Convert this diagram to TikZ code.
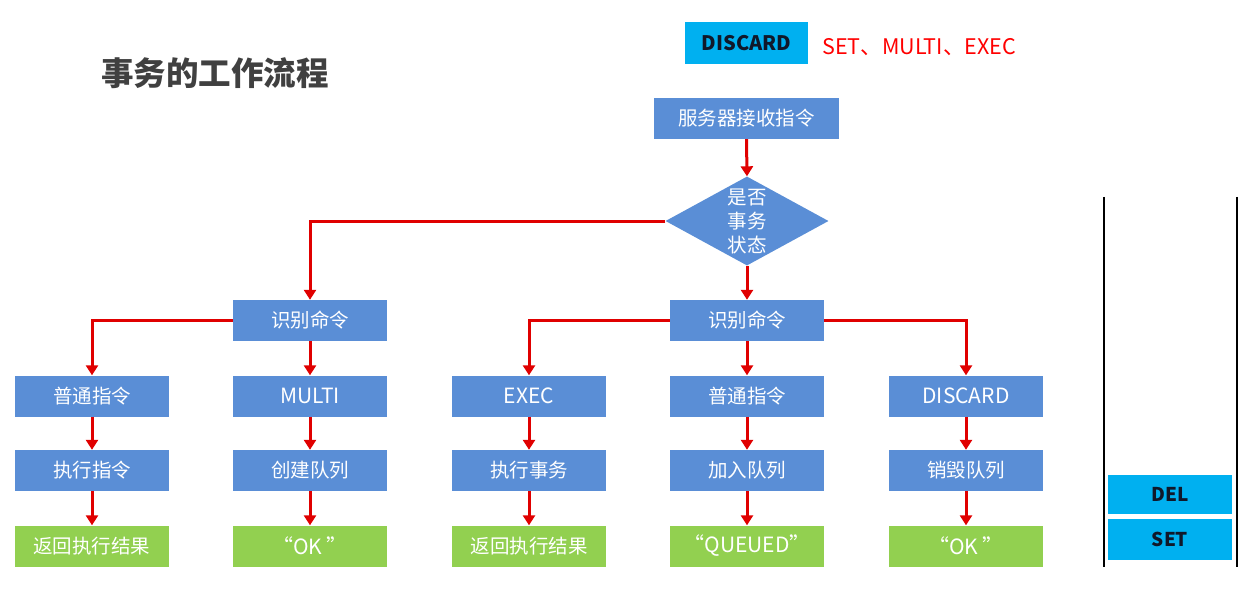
\documentclass[tikz,border=0pt]{standalone}
\usepackage{fontspec}
\setmainfont{Noto Sans CJK SC}
\usetikzlibrary{arrows.meta,shapes.geometric}
\definecolor{boxblue}{HTML}{5A8ED6}
\definecolor{boxgreen}{HTML}{92D050}
\definecolor{cyanbox}{HTML}{00B0F0}
\definecolor{arrowred}{HTML}{E00000}
\definecolor{titlegray}{HTML}{404040}
\definecolor{darktext}{HTML}{10182A}
\tikzset{
  flowbox/.style={rectangle,fill=boxblue,draw=none,inner sep=0pt,minimum width=154pt,minimum height=41pt,text=white,font=\fontsize{19.5}{23}\selectfont},
  resultbox/.style={flowbox,fill=boxgreen},
  cyanlabel/.style={rectangle,fill=cyanbox,draw=none,inner sep=0pt,text=darktext,font=\bfseries\fontsize{19}{22}\selectfont},
  arr/.style={draw=arrowred,line width=3pt,-{Triangle[length=10pt,width=12pt]}},
  stackline/.style={draw=black,line width=2.8pt}
}
\begin{document}
\begin{tikzpicture}[x=1pt,y=-1pt]
\useasboundingbox[fill=white] (0,0) rectangle (1259,591);
% title
\node[text=titlegray,font=\bfseries\fontsize{32.5}{36}\selectfont,anchor=west,inner sep=0pt] (title) at (101,73) {事务的工作流程};
% top legend
\node[cyanlabel,minimum width=123pt,minimum height=42pt,font=\bfseries\fontsize{20}{22}\selectfont] (topdiscard) at (746.5,43) {DISCARD};
\node[text=red,font=\fontsize{21.5}{24}\selectfont,anchor=west,inner sep=0pt] (redtext) at (822,47) {SET、MULTI、EXEC};
% main flow
\node[flowbox,minimum width=185pt] (srv) at (746.5,118.5) {服务器接收指令};
\node[diamond,fill=boxblue,draw=none,inner sep=0pt,minimum width=163pt,minimum height=89pt,aspect=1.83] (dia) at (747,221) {};
\node[text=white,align=center,font=\fontsize{19.5}{24}\selectfont,inner sep=0pt] (diatext) at (747,221) {是否\\事务\\状态};
\node[flowbox] (lid) at (310,320.5) {识别命令};
\node[flowbox] (rid) at (747,320.5) {识别命令};
% row 2
\node[flowbox] (c1) at (92,396) {普通指令};
\node[flowbox,font=\fontsize{21}{23}\selectfont] (c2) at (310,396) {MULTI};
\node[flowbox,font=\fontsize{21}{23}\selectfont] (c3) at (529,396) {EXEC};
\node[flowbox] (c4) at (747,396) {普通指令};
\node[flowbox,font=\fontsize{21}{23}\selectfont] (c5) at (966,396) {DISCARD};
% row 3
\node[flowbox] (d1) at (92,470.5) {执行指令};
\node[flowbox] (d2) at (310,470.5) {创建队列};
\node[flowbox] (d3) at (529,470.5) {执行事务};
\node[flowbox] (d4) at (747,470.5) {加入队列};
\node[flowbox] (d5) at (966,470.5) {销毁队列};
% row 4
\node[resultbox] (e1) at (92,546) {返回执行结果};
\node[resultbox,font=\fontsize{21}{23}\selectfont] (e2) at (310,546) {“OK ”};
\node[resultbox] (e3) at (529,546) {返回执行结果};
\node[resultbox,font=\fontsize{21}{23}\selectfont] (e4) at (747,546) {“QUEUED”};
\node[resultbox,font=\fontsize{21}{23}\selectfont] (e5) at (966,546) {“OK ”};
% connectors
\draw[arr] (srv.south) -- (dia.north);
\draw[arr] (dia.west) -| (lid.north);
\draw[arr] (dia.south) -- (rid.north);
\draw[arr] (lid.west) -| (c1.north);
\draw[arr] (lid.south) -- (c2.north);
\draw[arr] (rid.west) -| (c3.north);
\draw[arr] (rid.south) -- (c4.north);
\draw[arr] (rid.east) -| (c5.north);
\foreach \i in {1,...,5}{
  \draw[arr] (c\i.south) -- (d\i.north);
  \draw[arr] (d\i.south) -- (e\i.north);
}
% stack
\draw[stackline] (1104,197) -- (1104,567);
\draw[stackline] (1237,197) -- (1237,567);
\node[cyanlabel,minimum width=124pt,minimum height=39pt] (del) at (1170,494.5) {DEL};
\node[cyanlabel,minimum width=124pt,minimum height=41pt] (set) at (1170,539.5) {SET};
\end{tikzpicture}
\end{document}
